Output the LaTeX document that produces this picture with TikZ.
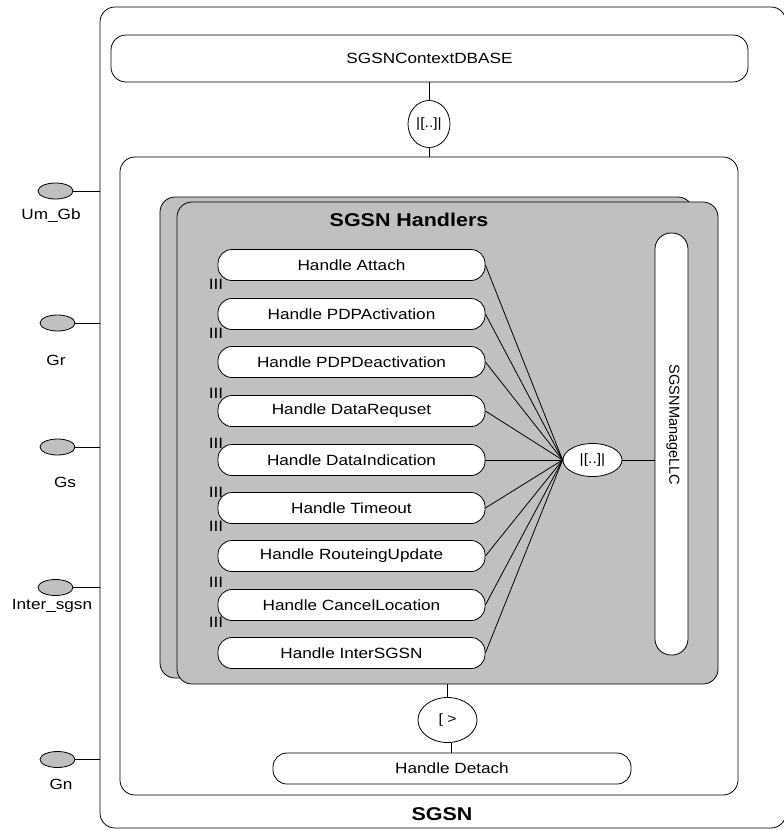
\documentclass[tikz,border=0pt]{standalone}
\usepackage{fontspec}
\setmainfont[FakeStretch=1.16]{Liberation Sans}
\newfontfamily\plainfont{Liberation Sans}
\usetikzlibrary{shapes.geometric}
\definecolor{hgray}{RGB}{192,192,192}
\tikzset{
  ln/.style={line width=0.8pt},
  rbox/.style={draw, ln, rectangle, rounded corners=15pt, inner sep=0pt},
  hbox/.style={rbox, fill=white, rounded corners=14pt, minimum width=267pt, minimum height=31pt, font=\fontsize{14.8}{16}\selectfont},
  opnode/.style={draw, ln, ellipse, fill=white, inner sep=0pt, font=\fontsize{13.5}{15}\selectfont},
  port/.style={draw, ln, ellipse, fill=hgray, inner sep=0pt, minimum width=35pt, minimum height=16pt},
  lbl/.style={inner sep=0pt, font=\fontsize{14.8}{16}\selectfont},
  bars/.style={inner sep=0pt, font=\fontsize{15}{16}\selectfont},
  title/.style={inner sep=0pt, font=\fontsize{18.5}{20}\selectfont\bfseries}
}
\begin{document}
\begin{tikzpicture}[x=1pt,y=-1pt]
\useasboundingbox (0,0) rectangle (784,830);
\clip (0,0) rectangle (784,830);
\fill[white] (0,0) rectangle (784,830);
% outer SGSN box
\node[rbox, minimum width=686pt, minimum height=821pt] (outer) at (443,417.5) {};
\node[title] (sgsnlbl) at (442,814) {SGSN};
% context database
\node[rbox, minimum width=637pt, minimum height=47pt, font=\fontsize{14.8}{16}\selectfont] (db) at (429.5,58.5) {SGSNContextDBASE};
\node[opnode, minimum width=42pt, minimum height=47pt] (par1) at (429,124) {|[..]|};
% inner box
\node[rbox, minimum width=618pt, minimum height=638pt] (inner) at (429,476) {};
\draw[ln] (db.south -| par1) -- (par1.north);
\draw[ln] (par1.south) -- (par1.south |- inner.north);
% ports
\node[port] (umgb) at (55.5,191) {};
\node[lbl] at (51,216) {Um\_Gb};
\node[port] (gr) at (57.5,323) {};
\node[lbl] at (56,360) {Gr};
\node[port] (gs) at (57.5,447) {};
\node[lbl] at (65,482) {Gs};
\node[port] (inter) at (55.5,587.5) {};
\node[lbl] at (52,606) {Inter\_sgsn};
\node[port] (gn) at (57.5,759.5) {};
\node[lbl] at (61,784) {Gn};
\foreach \p in {umgb,gr,gs,inter,gn}
  \draw[ln] (\p.east) -- (\p.east -| outer.west);
% handlers boxes
\node[rbox, fill=hgray, minimum width=533pt, minimum height=481pt] (hback) at (426.5,437.5) {};
\node[rbox, fill=hgray, minimum width=541pt, minimum height=482pt] (hfront) at (447.5,443) {};
\node[title] (htitle) at (409,220) {SGSN Handlers};
% handle boxes
\node[hbox] (h1) at (351.5,265) {Handle Attach};
\node[hbox] (h2) at (351.5,314) {Handle PDPActivation};
\node[hbox] (h3) at (351.5,362) {Handle PDPDeactivation};
\node[hbox] (h4) at (351.5,411) {Handle DataRequset};
\node[hbox] (h5) at (351.5,460) {Handle DataIndication};
\node[hbox] (h6) at (351.5,508) {Handle Timeout};
\node[hbox] (h7) at (351.5,556) {Handle RouteingUpdate};
\node[hbox] (h8) at (351.5,605) {Handle CancelLocation};
\node[hbox] (h9) at (351.5,653) {Handle InterSGSN};
% interleaving marks
\foreach \yy/\nm in {284/b1,333/b2,393/b3,443/b4,492/b5,526/b6,582/b7,622/b8}
  \node[bars] (\nm) at (216,\yy) {III};
% parallel operator and LLC
\node[opnode, minimum width=59pt, minimum height=33pt] (par2) at (592.5,460) {|[..]|};
\node[rbox, fill=white, rounded corners=16pt, minimum width=33pt, minimum height=422pt] (llc) at (671.5,444) {};
\node[inner sep=0pt, rotate=-90, font=\plainfont\fontsize{14.5}{16}\selectfont] (llctxt) at (673,425) {SGSNManageLLC};
\foreach \h in {h1,h2,h3,h4,h5,h6,h7,h8,h9}
  \draw[ln] (\h.east) -- (par2.west);
\draw[ln] (par2.east) -- (par2.east -| llc.west);
% disable and detach
\node[opnode, minimum width=59pt, minimum height=45pt] (dis) at (447.5,720) {[ >};
\node[hbox, minimum width=358pt] (detach) at (452,768.5) {Handle Detach};
\draw[ln] (hfront.south -| dis) -- (dis.north);
\draw[ln] ([xshift=4pt]dis.south) -- ([xshift=4pt]dis.south |- detach.north);
\end{tikzpicture}
\end{document}
